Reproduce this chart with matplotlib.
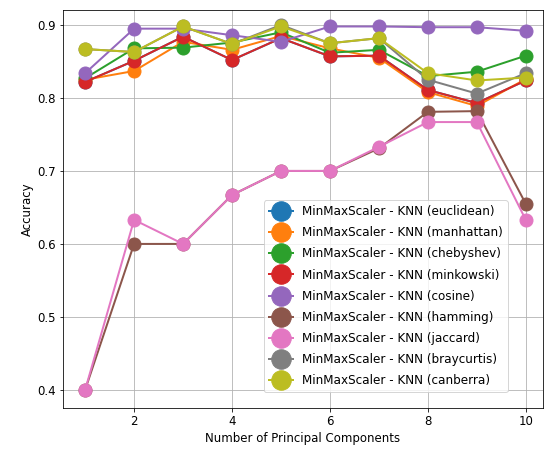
import matplotlib
matplotlib.use("Agg")
import matplotlib.pyplot as plt
import numpy as np

components = np.arange(1, 11)

metrics = [
    "euclidean", "manhattan", "chebyshev", "minkowski", "cosine",
    "hamming", "jaccard", "braycurtis", "canberra",
]

euclidean = [0.822, 0.851, 0.884, 0.852, 0.882, 0.857, 0.858, 0.811, 0.793, 0.824]
manhattan = [0.825, 0.837, 0.877, 0.866, 0.885, 0.868, 0.855, 0.808, 0.789, 0.826]
chebyshev = [0.827, 0.868, 0.869, 0.876, 0.890, 0.862, 0.866, 0.830, 0.836, 0.858]
minkowski = [0.822, 0.851, 0.884, 0.852, 0.882, 0.857, 0.858, 0.811, 0.793, 0.824]
cosine = [0.834, 0.895, 0.895, 0.886, 0.877, 0.898, 0.898, 0.897, 0.897, 0.892]
hamming = [0.400, 0.600, 0.600, 0.667, 0.700, 0.700, 0.731, 0.781, 0.782, 0.655]
jaccard = [0.400, 0.633, 0.600, 0.667, 0.700, 0.700, 0.733, 0.767, 0.767, 0.633]
braycurtis = [0.867, 0.863, 0.898, 0.874, 0.900, 0.875, 0.882, 0.825, 0.806, 0.834]
canberra = [0.867, 0.863, 0.898, 0.874, 0.898, 0.875, 0.882, 0.834, 0.824, 0.828]

series = [euclidean, manhattan, chebyshev, minkowski, cosine,
          hamming, jaccard, braycurtis, canberra]

fig = plt.figure(figsize=(544 / 72, 457 / 72), dpi=72)
ax = fig.add_axes([0.116, 0.107, 0.882, 0.871])

for name, acc in zip(metrics, series):
    ax.plot(components, acc, marker="o", markersize=13, linewidth=2,
            label=f"MinMaxScaler - KNN ({name})")

ax.set_xlim(0.55, 10.35)
ax.set_ylim(0.375, 0.9205)
ax.set_xticks([2, 4, 6, 8, 10])
ax.set_xlabel("Number of Principal Components", fontsize=11.7)
ax.set_ylabel("Accuracy", fontsize=11.7)
ax.tick_params(labelsize=11.7)
ax.grid(True)
ax.legend(loc="lower right", bbox_to_anchor=(0.927, 0.04), borderaxespad=0,
          markerscale=1.5, fontsize=12, labelspacing=0.68, framealpha=0.8)

fig.savefig("out.png", dpi=72)
